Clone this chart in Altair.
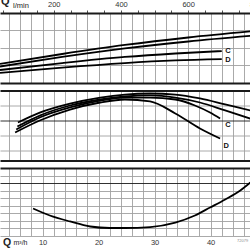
import altair as alt
import pandas as pd

FONT = "Liberation Sans"

# ---------------- data (flow Q in m³/h; y in grid units of each panel) -------------
# upper panel (power curves)
p1_a_q = [2.4, 13.5, 24.7, 36.0, 47.1]
p1_a_y = [1.07, 1.64, 2.16, 2.59, 2.94]
p1_b_q = [2.4, 13.5, 24.7, 36.0, 47.1]
p1_b_y = [0.92, 1.47, 1.96, 2.36, 2.68]
p1_c_q = [2.4, 13.5, 24.7, 33.7, 42.0]
p1_c_y = [0.72, 1.12, 1.47, 1.67, 1.81]
p1_d_q = [2.4, 13.5, 24.7, 33.7, 42.0]
p1_d_y = [0.55, 0.86, 1.12, 1.27, 1.35]
p1_lab_q = [43.1, 43.1]
p1_lab_y = [1.81, 1.29]
p1_lab_t = ["C", "D"]

# middle panel (head curves)
p2_a_q = [5.6, 9.5, 14.9, 20.3, 24.7, 29.2, 33.7, 38.1, 42.6, 47.1]
p2_a_y = [1.87, 2.53, 3.13, 3.53, 3.73, 3.80, 3.73, 3.47, 3.07, 2.67]
p2_b_q = [5.5, 9.5, 14.9, 20.3, 24.7, 29.2, 33.7, 38.1, 42.6, 47.1]
p2_b_y = [1.60, 2.33, 3.00, 3.40, 3.60, 3.67, 3.53, 3.20, 2.67, 2.13]
p2_c_q = [5.3, 9.5, 14.9, 20.3, 24.7, 29.2, 33.7, 37.2, 39.9, 41.7]
p2_c_y = [1.40, 2.20, 2.87, 3.33, 3.53, 3.53, 3.40, 3.00, 2.53, 2.13]
p2_d_q = [5.1, 9.5, 14.9, 20.3, 24.7, 29.2, 33.7, 38.1, 41.7]
p2_d_y = [1.20, 2.00, 2.73, 3.20, 3.40, 3.27, 2.47, 1.47, 0.80]
p2_lab_q = [43.1, 42.8]
p2_lab_y = [1.67, 0.33]
p2_lab_t = ["C", "D"]

# lower panel (NPSH curve)
p3_q = [8.3, 11.3, 14.9, 18.5, 22.0, 24.7, 29.2, 33.7, 37.2, 39.9, 42.6, 45.3, 47.1]
p3_y = [3.60, 2.67, 1.87, 1.20, 1.00, 1.00, 1.13, 1.73, 2.67, 3.73, 4.80, 6.00, 7.07]

# axes
GRID_Q = list(range(4, 49, 2))          # vertical grid every 2 m³/h
TOP_TICKS_Q = list(range(3, 49, 3))     # every 50 l/min
P1_Y_GRID = [0, 1, 2, 3, 4]
P2_Y_GRID = [-0.6667, 0, 1, 2, 3, 4]
P3_Y_GRID = [0, 1, 2, 3, 4, 5, 6, 7, 8, 9]

X_DOMAIN = [2.4, 49.0]
PANEL_W = 261

x_scale = alt.Scale(domain=X_DOMAIN, nice=False, zero=False)


def curves_df(pairs):
    rows = []
    for name, qs, ys in pairs:
        for q, y in zip(qs, ys):
            rows.append({"s": name, "q": q, "y": y})
    return pd.DataFrame(rows)


def grid_x_axis(**kw):
    base = dict(values=GRID_Q, grid=True, gridColor="#a0a0a0", gridWidth=0.9,
                labels=False, ticks=False, domain=False, title=None,
                orient="bottom", minExtent=0, maxExtent=0)
    base.update(kw)
    return alt.Axis(**base)


def grid_y_axis(vals, thick_test, dark_test):
    return alt.Axis(values=vals, grid=True, labels=False, ticks=False, domain=False,
                    title=None, minExtent=0, maxExtent=0,
                    gridColor={"condition": {"test": f"({thick_test}) || ({dark_test})",
                                             "value": "#1a1a1a"}, "value": "#a0a0a0"},
                    gridWidth={"condition": {"test": thick_test, "value": 2},
                               "value": 0.9})


def line_layer(df, x_axis, y_scale, y_axis):
    return alt.Chart(df).mark_line(color="black", strokeWidth=1.8,
                                   interpolate="monotone", clip=True).encode(
        x=alt.X("q:Q", scale=x_scale, axis=x_axis),
        y=alt.Y("y:Q", scale=y_scale, axis=y_axis),
        detail="s:N",
    )


def label_layer(qs, ys, ts, x_axis, y_scale, y_axis):
    df = pd.DataFrame({"q": qs, "y": ys, "t": ts})
    return alt.Chart(df).mark_text(font=FONT, fontSize=7.5, fontWeight="bold",
                                   color="#111111", align="center",
                                   baseline="middle").encode(
        x=alt.X("q:Q", scale=x_scale, axis=x_axis),
        y=alt.Y("y:Q", scale=y_scale, axis=y_axis),
        text="t:N",
    )


def free_text(t, x, y, size, weight="normal", color="#222222"):
    return alt.Chart(pd.DataFrame({"t": [t]})).mark_text(
        font=FONT, fontSize=size, fontWeight=weight, color=color,
        align="left", baseline="alphabetic").encode(
        x=alt.value(x), y=alt.value(y), text="t:N")


# ---------------- panel 1 ----------------
y1_scale = alt.Scale(domain=[0, 4], nice=False, zero=False)
y1_axis = grid_y_axis(P1_Y_GRID, "datum.value < 0.5 || datum.value > 3.5", "false")
top_axis = alt.Axis(values=TOP_TICKS_Q, orient="top", grid=False, domain=False,
                    ticks=True, tickSize=3, tickColor="#222222", tickWidth=0.8,
                    labelExpr="datum.value % 12 == 0 ? format(datum.value * 1000 / 60, 'd') : ''",
                    labelFont=FONT, labelFontSize=7.5, labelColor="#333333",
                    labelPadding=1.5, title=None)
df1 = curves_df([("A", p1_a_q, p1_a_y), ("B", p1_b_q, p1_b_y),
                 ("C", p1_c_q, p1_c_y), ("D", p1_d_q, p1_d_y)])
panel1 = alt.layer(
    line_layer(df1, grid_x_axis(), y1_scale, y1_axis),
    label_layer(p1_lab_q, p1_lab_y, p1_lab_t, top_axis, y1_scale, y1_axis),
    free_text("Q", 1, -8, 11, "bold"),
    free_text("l/min", 13, -5, 7.5),
).resolve_axis(x="independent").properties(width=PANEL_W, height=69.5)

# ---------------- panel 2 ----------------
y2_scale = alt.Scale(domain=[-0.6667, 4], nice=False, zero=False)
y2_axis = grid_y_axis(P2_Y_GRID, "datum.value < -0.5 || datum.value > 3.5",
                      "datum.value == 2")
df2 = curves_df([("A", p2_a_q, p2_a_y), ("B", p2_b_q, p2_b_y),
                 ("C", p2_c_q, p2_c_y), ("D", p2_d_q, p2_d_y)])
panel2 = alt.layer(
    line_layer(df2, grid_x_axis(), y2_scale, y2_axis),
    label_layer(p2_lab_q, p2_lab_y, p2_lab_t, grid_x_axis(), y2_scale, y2_axis),
).properties(width=PANEL_W, height=70)

# ---------------- panel 3 ----------------
y3_scale = alt.Scale(domain=[0, 9], nice=False, zero=False)
y3_axis = grid_y_axis(P3_Y_GRID, "datum.value > 8.5", "datum.value == 7")
bottom_axis = grid_x_axis(labels=True,
                          labelExpr="datum.value % 10 == 0 ? datum.label : ''",
                          labelFont=FONT, labelFontSize=7.5, labelColor="#333333",
                          labelPadding=2.5, maxExtent=20)
df3 = curves_df([("N", p3_q, p3_y)])
panel3 = alt.layer(
    line_layer(df3, bottom_axis, y3_scale, y3_axis),
    free_text("Q", 3, 77.5, 10.5, "bold"),
    free_text("m³/h", 13.5, 77, 7),
    free_text("72079", 237, 73.5, 4, "normal", "#8a8a8a"),
).properties(width=PANEL_W, height=67.5)

chart = alt.vconcat(panel1, panel2, panel3, spacing=7.5, bounds="flush").configure_view(
    stroke=None
).properties(
    padding={"left": 0, "top": -4, "right": -12, "bottom": 0},
    background="white",
)

chart.save("out.html", embed_options={"renderer": "svg", "actions": False})
